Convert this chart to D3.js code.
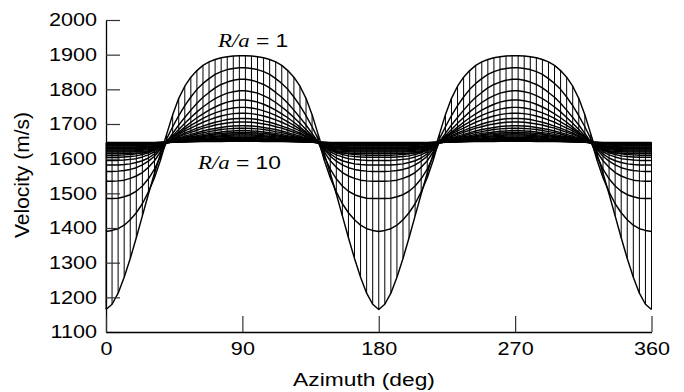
<!DOCTYPE html>
<html><head><meta charset="utf-8">
<script src="https://cdn.jsdelivr.net/npm/d3@7"></script>
<style>body{margin:0;background:#fff}svg{display:block}</style>
</head><body>
<svg id="chart" width="684" height="392"></svg>
<script>
// Azimuth samples of one quarter period (deg); the curves are symmetric about 90 and repeat every 180
const azimuthHalf = [0,4,8,12,16,20,24,28,32,36,40,44,48,52,56,60,64,68,72,76,80,84,88];
// R/a values of the curves (1 = wall, 10 = far field)
const rOverA = [1,1.1,1.2,1.3,1.4,1.5,1.6,1.75,1.9,2,2.25,2.5,2.75,3,3.5,4,4.5,5,5.5,6,7,8,9,10];
// Velocity (m/s) at azimuthHalf for each R/a
const vR1  = [1165,1180,1212,1258,1312,1372,1435,1498,1558,1614,1670,1727,1774,1809,1835,1854,1869,1879,1886,1891,1894,1896,1897];
const vR2  = [1390,1393,1398,1408,1424,1444,1470,1504,1545,1596,1657,1692,1724,1753,1778,1800,1817,1831,1843,1851,1857,1860,1862];
const vR3  = [1485,1485,1486,1490,1496,1506,1521,1542,1570,1607,1648,1673,1697,1719,1740,1760,1777,1791,1804,1814,1821,1826,1829];
const vR4  = [1535,1535,1536,1538,1543,1550,1560,1575,1594,1620,1648,1666,1684,1702,1719,1735,1749,1762,1773,1782,1789,1793,1796];
const vR5  = [1563,1563,1564,1566,1569,1574,1582,1593,1607,1627,1648,1662,1677,1691,1705,1718,1729,1740,1749,1757,1763,1767,1769];
const vR6  = [1582,1582,1582,1583,1585,1589,1594,1602,1614,1630,1651,1662,1674,1685,1696,1706,1716,1725,1732,1738,1743,1746,1748];
const vR7  = [1595,1595,1595,1596,1598,1600,1605,1611,1620,1634,1651,1661,1670,1680,1688,1697,1705,1712,1718,1723,1727,1730,1731];
const vR8  = [1604,1604,1604,1605,1606,1608,1612,1617,1625,1636,1650,1658,1666,1674,1681,1688,1694,1700,1705,1709,1713,1715,1716];
const vR9  = [1610,1610,1610,1611,1612,1614,1617,1621,1628,1638,1650,1656,1663,1670,1676,1682,1688,1692,1697,1700,1703,1705,1706];
const vR10 = [1615,1615,1615,1615,1615,1616,1617,1620,1625,1634,1648,1654,1659,1665,1670,1675,1680,1684,1687,1690,1693,1694,1695];
const vR11 = [1619,1619,1619,1619,1619,1620,1621,1623,1628,1636,1647,1652,1657,1662,1666,1671,1675,1678,1681,1684,1686,1687,1688];
const vR12 = [1622,1622,1622,1622,1622,1623,1624,1626,1630,1637,1646,1650,1655,1659,1663,1666,1670,1673,1675,1677,1679,1680,1681];
const vR13 = [1625,1625,1625,1625,1625,1626,1627,1628,1632,1638,1646,1650,1653,1657,1660,1663,1666,1669,1671,1673,1674,1675,1676];
const vR14 = [1628,1628,1628,1628,1628,1629,1629,1631,1634,1640,1646,1649,1652,1655,1658,1661,1664,1666,1668,1669,1671,1671,1672];
const vR15 = [1630,1630,1630,1630,1630,1631,1631,1633,1635,1640,1646,1648,1651,1654,1656,1658,1661,1663,1664,1666,1667,1668,1668];
const vR16 = [1632,1632,1632,1632,1632,1632,1633,1634,1637,1641,1646,1648,1650,1652,1655,1657,1659,1660,1662,1663,1664,1665,1665];
const vR17 = [1634,1634,1634,1634,1634,1634,1635,1636,1638,1642,1646,1647,1649,1651,1653,1655,1657,1658,1659,1660,1661,1662,1662];
const vR18 = [1637,1637,1637,1637,1637,1637,1638,1639,1640,1643,1646,1648,1649,1651,1652,1654,1655,1656,1657,1658,1658,1659,1659];
const vR19 = [1640,1640,1640,1640,1640,1640,1641,1641,1642,1645,1647,1648,1649,1650,1651,1652,1653,1654,1654,1655,1656,1656,1656];
const vR20 = [1642,1642,1642,1642,1642,1642,1642,1643,1644,1645.5,1647,1648,1649,1649,1650,1651,1652,1652,1653,1653,1654,1654,1654];
const vR21 = [1643.5,1643.5,1643.5,1643.5,1643.5,1643.6,1643.8,1644.2,1644.9,1646.1,1647.4,1648.1,1648.8,1649.4,1650,1650.6,1651.2,1651.7,1652.1,1652.4,1652.7,1652.9,1653];
const vR22 = [1644.5,1644.5,1644.5,1644.5,1644.5,1644.6,1644.7,1645,1645.6,1646.5,1647.6,1648.1,1648.6,1649.2,1649.7,1650.1,1650.6,1651,1651.3,1651.6,1651.8,1651.9,1652];
const vR23 = [1645.5,1645.5,1645.5,1645.5,1645.5,1645.6,1645.7,1645.9,1646.3,1647,1647.8,1648.2,1648.5,1648.9,1649.3,1649.6,1649.9,1650.2,1650.5,1650.7,1650.8,1650.9,1651];
const vR24 = [1646.5,1646.5,1646.5,1646.5,1646.5,1646.5,1646.6,1646.7,1646.9,1647.4,1648,1648.2,1648.4,1648.7,1648.9,1649.1,1649.3,1649.5,1649.7,1649.8,1649.9,1650,1650];
const curveValues = [vR1,vR2,vR3,vR4,vR5,vR6,vR7,vR8,vR9,vR10,vR11,vR12,vR13,vR14,vR15,vR16,vR17,vR18,vR19,vR20,vR21,vR22,vR23,vR24];

const xTicks = [0,90,180,270,360];
const yTicks = [1100,1200,1300,1400,1500,1600,1700,1800,1900,2000];
const xTitle = "Azimuth (deg)";
const yTitle = "Velocity (m/s)";
const labelTop = {r: "R/a", rest: " = 1"};
const labelBottom = {r: "R/a", rest: " = 10"};

// full 0..360 azimuth grid mapped onto the quarter-period samples by symmetry
const grid = [];
[0, 180].forEach((p, pi) => {
  azimuthHalf.forEach((a, i) => { if (!(pi === 1 && i === 0)) grid.push({az: p + a, i}); });
  for (let i = azimuthHalf.length - 1; i >= 0; i--) grid.push({az: p + 180 - azimuthHalf[i], i});
});
const series = curveValues.map((half, k) => ({
  r: rOverA[k],
  pts: grid.map(g => ({az: g.az, v: half[g.i]}))
}));

const svg = d3.select("#chart");
const x = d3.scaleLinear().domain([0, 360]).range([106, 651.5]);
const y = d3.scaleLinear().domain([1100, 2000]).range([332, 20]);
const SX = 1.2;
const sans = "'Liberation Sans', Arial, Helvetica, sans-serif";

// vertical connectors at every sample azimuth
const g = svg.append("g");
g.selectAll("line.v").data(grid).join("line")
  .attr("x1", d => x(d.az)).attr("x2", d => x(d.az))
  .attr("y1", d => y(d3.min(curveValues, c => c[d.i])))
  .attr("y2", d => y(d3.max(curveValues, c => c[d.i])))
  .attr("stroke", "#000").attr("stroke-width", 1);

const line = d3.line().x(d => x(d.az)).y(d => y(d.v));
g.selectAll("path.c").data(series).join("path")
  .attr("d", d => line(d.pts))
  .attr("fill", "none").attr("stroke", "#000").attr("stroke-width", 1.45)
  .attr("stroke-linejoin", "round");

// axes
const ay = svg.append("g").attr("transform", `translate(${x(0)},0)`)
  .call(d3.axisLeft(y).tickValues(yTicks).tickFormat(d3.format("d")).tickSize(-14).tickSizeOuter(0).tickPadding(9));
const ax = svg.append("g").attr("transform", `translate(0,${y(1100)})`)
  .call(d3.axisBottom(x).tickValues(xTicks).tickFormat(d3.format("d")).tickSize(-16).tickSizeOuter(0).tickPadding(10));
[ay, ax].forEach(a => {
  a.select(".domain").attr("stroke", "#000").attr("stroke-width", 1.3);
  a.selectAll(".tick line").attr("stroke", "#333").attr("stroke-width", 1.2);
  a.selectAll(".tick text").attr("fill", "#000").attr("font-family", sans)
    .attr("font-size", 18).attr("transform", `scale(${SX},1)`);
});
ay.selectAll(".tick text").attr("x", -9 / SX);

svg.append("text").attr("transform", `translate(364,386) scale(${SX},1)`)
  .attr("text-anchor", "middle").attr("font-family", sans).attr("font-size", 19).text(xTitle);
svg.append("text").attr("transform", `translate(29,175) rotate(-90)`)
  .attr("text-anchor", "middle").attr("font-family", sans).attr("font-size", 21).text(yTitle);

function rLabel(lbl, px, py) {
  const t = svg.append("text").attr("transform", `translate(${px},${py}) scale(${SX},1)`)
    .attr("font-size", 19);
  t.append("tspan").attr("font-family", "'Liberation Serif', 'Times New Roman', serif")
    .attr("font-style", "italic").text(lbl.r);
  t.append("tspan").attr("font-family", sans).text(lbl.rest);
}
rLabel(labelTop, 218, 47);
rLabel(labelBottom, 198, 169);
</script>
</body></html>
